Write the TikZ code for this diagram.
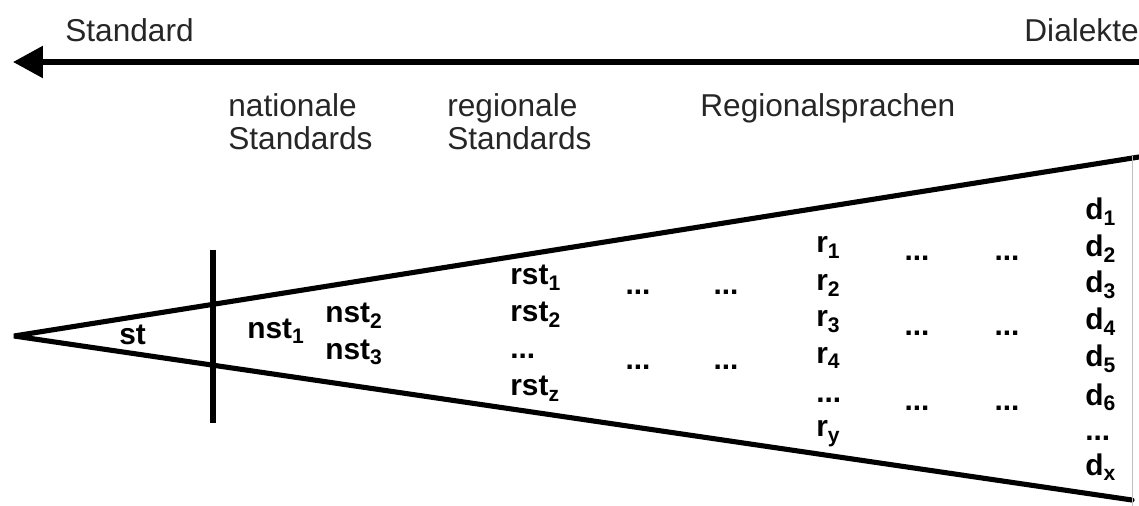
\documentclass[tikz,border=0pt]{standalone}
\usepackage{fontspec}
\setmainfont{Liberation Sans}
\usetikzlibrary{arrows.meta}

\newcommand{\idx}[1]{\raisebox{-0.35ex}{\fontsize{12}{12}\selectfont #1}}

\tikzset{
  lbl/.style={font=\fontsize{18}{18.8}\selectfont, text=black!85, inner sep=0, anchor=base west, align=left},
  var/.style={font=\bfseries\fontsize{17}{19}\selectfont, inner sep=0, anchor=base west},
  dots/.style={font=\bfseries\fontsize{17}{19}\selectfont, inner sep=0},
  edge/.style={line width=2.9pt, line cap=round, line join=bevel},
}

\begin{document}
\begin{tikzpicture}[x=0.02cm, y=-0.02cm]
\useasboundingbox (0,0) rectangle (1139,506);

 \node[lbl] (std) at (65,42) {Standard};
 \node[lbl, anchor=base east] (dia) at (1139,42) {Dialekte};
 \coordinate (arrR) at (1139,62);
 \coordinate (arrL) at (13,62);
 \draw[line width=3.2pt, -{Triangle[length=0.6cm, width=0.62cm]}] (arrR)--(arrL);

 \node[lbl] (nat) at (228,150) {nationale\\Standards};
 \node[lbl] (reg) at (447,150) {regionale\\Standards};
 \node[lbl] (rsp) at (700,117) {Regionalsprachen};

 \coordinate (apex) at (14,336);
 \coordinate (topR) at (1139,157);
 \coordinate (botR) at (1132,500);
 \draw[edge] (topR)--(apex)--(botR);
 \coordinate (edgeT) at (1132,156);
 \coordinate (edgeB) at (1132,506);
 \draw[gray!50, line width=0.5pt] (edgeT)--(edgeB);

 \coordinate (cutT) at (213,250);
 \coordinate (cutB) at (213,423);
 \draw[line width=2.9pt] (cutT)--(cutB);

 \node[var] (st) at (119,345) {st};

 \node[var] (nst1) at (247,338) {nst\idx{1}};
 \node[var] (nst2) at (325,323) {nst\idx{2}};
 \node[var] (nst3) at (325,359) {nst\idx{3}};

 \node[var] (rst1) at (510,285) {rst\idx{1}};
 \node[var] (rst2) at (510,322) {rst\idx{2}};
 \node[var] (rst3) at (510,358) {...};
 \node[var] (rstz) at (510,396) {rst\idx{z}};

 \node[dots] (da1) at (638,292) {...};
 \node[dots] (da2) at (726,292) {...};
 \node[dots] (da3) at (638,367) {...};
 \node[dots] (da4) at (726,367) {...};

 \node[var] (r1) at (816,253) {r\idx{1}};
 \node[var] (r2) at (816,291) {r\idx{2}};
 \node[var] (r3) at (816,327) {r\idx{3}};
 \node[var] (r4) at (816,363) {r\idx{4}};
 \node[var] (r5) at (816,402) {...};
 \node[var] (ry) at (816,437) {r\idx{y}};

 \node[dots] (db1) at (917,258) {...};
 \node[dots] (db2) at (1007,258) {...};
 \node[dots] (db3) at (917,333) {...};
 \node[dots] (db4) at (1007,333) {...};
 \node[dots] (db5) at (917,408) {...};
 \node[dots] (db6) at (1007,408) {...};

 \node[var] (d1) at (1085,220) {d\idx{1}};
 \node[var] (d2) at (1085,257) {d\idx{2}};
 \node[var] (d3) at (1085,293) {d\idx{3}};
 \node[var] (d4) at (1085,330) {d\idx{4}};
 \node[var] (d5) at (1085,367) {d\idx{5}};
 \node[var] (d6) at (1085,405) {d\idx{6}};
 \node[var] (d7) at (1085,440) {...};
 \node[var] (dx) at (1085,475) {d\idx{x}};
\end{tikzpicture}
\end{document}
